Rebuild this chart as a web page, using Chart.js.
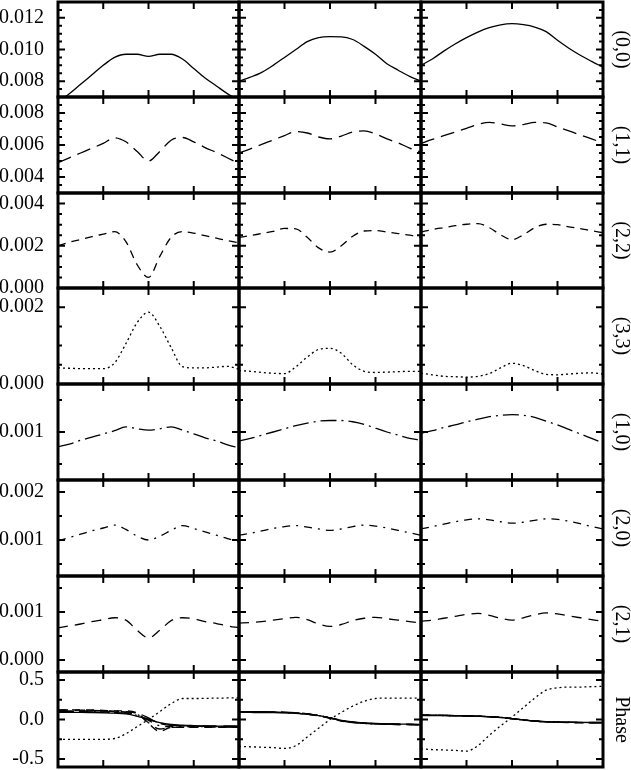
<!DOCTYPE html>
<html>
<head>
<meta charset="utf-8">
<script src="https://cdn.jsdelivr.net/npm/chart.js@4.4.1/dist/chart.umd.min.js"></script>
<style>
  html, body { margin: 0; padding: 0; background: #fff; }
  #wrap { position: relative; width: 631px; height: 770px; overflow: hidden; background: #fff; }
  #wrap canvas { position: absolute; }
</style>
</head>
<body>
<div id="wrap"></div>
<script>
// row names, top to bottom
const modes = ['(0,0)', '(1,1)', '(2,2)', '(3,3)', '(1,0)', '(2,0)', '(2,1)', 'Phase'];

// sample positions along x, same for every panel
const xs = [0, 1, 2, 3, 4, 5, 6, 7, 8, 9, 10, 11, 12, 13, 14, 15, 16];
const xTicks = [4, 8, 12];

// y range and labelled ticks for each row
const yMin = [0.007, 0.003, 0, 0, 0.00025, 0.00025, -0.00025, -0.6];
const yMax = [0.013, 0.009, 0.0045, 0.0025, 0.00175, 0.00225, 0.00175, 0.6];
const yTickLabels = [
  ['0.008', '0.010', '0.012'],
  ['0.004', '0.006', '0.008'],
  ['0.000', '0.002', '0.004'],
  ['0.000', '0.002'],
  ['0.001'],
  ['0.001', '0.002'],
  ['0.000', '0.001'],
  ['-0.5', '0.0', '0.5']
];
const yMinorStep = [0.0005, 0.0005, 0.0005, 0.0005, 0.0005, 0.0005, 0.0005, 0.25];

// amplitudes, one list per column
const amp00 = [
  [0.0067, 0.0072, 0.0078, 0.0084, 0.0090, 0.0095, 0.0097, 0.0097, 0.00957, 0.0097, 0.0097, 0.0094, 0.0088, 0.0082, 0.0077, 0.0072, 0.0068],
  [0.0080, 0.00825, 0.00856, 0.0090, 0.0095, 0.0100, 0.0105, 0.01075, 0.01081, 0.0108, 0.01063, 0.0102, 0.0097, 0.0091, 0.00869, 0.0083, 0.0080],
  [0.0090, 0.0094, 0.0099, 0.01035, 0.01075, 0.0111, 0.01138, 0.01156, 0.01163, 0.01157, 0.01142, 0.01113, 0.01058, 0.01008, 0.00964, 0.00925, 0.00888]
];
const amp11 = [
  [0.0049, 0.0052, 0.0055, 0.0058, 0.0061, 0.00645, 0.0062, 0.0056, 0.0050, 0.0056, 0.0063, 0.00647, 0.0062, 0.00584, 0.00553, 0.00519, 0.00484],
  [0.0055, 0.00576, 0.00604, 0.00631, 0.00659, 0.00684, 0.00675, 0.0065, 0.00638, 0.00656, 0.00681, 0.00688, 0.00669, 0.00638, 0.00613, 0.00581, 0.00556],
  [0.0061, 0.00635, 0.00658, 0.00681, 0.00704, 0.00728, 0.00741, 0.00731, 0.00719, 0.00728, 0.00741, 0.00738, 0.00713, 0.00688, 0.00663, 0.00638, 0.00613]
];
const amp22 = [
  [0.0020, 0.00217, 0.0023, 0.00243, 0.00255, 0.00267, 0.0022, 0.0011, 0.0005, 0.0015, 0.0024, 0.00267, 0.0026, 0.00248, 0.00236, 0.00224, 0.00214],
  [0.0024, 0.00248, 0.00258, 0.00268, 0.00282, 0.0028, 0.0024, 0.0019, 0.0017, 0.0020, 0.00245, 0.0027, 0.00272, 0.00265, 0.00258, 0.0025, 0.0024],
  [0.00265, 0.00277, 0.00286, 0.00295, 0.00302, 0.00305, 0.00286, 0.00252, 0.00229, 0.00252, 0.00286, 0.00302, 0.0030, 0.0029, 0.00281, 0.00271, 0.00262]
];
const amp33 = [
  [0.00042, 0.00041, 0.0004, 0.0004, 0.0004, 0.00055, 0.00105, 0.0016, 0.00187, 0.0015, 0.00095, 0.00045, 0.00042, 0.00042, 0.00044, 0.00046, 0.00038],
  [0.00035, 0.00033, 0.0003, 0.00028, 0.00027, 0.00045, 0.0007, 0.0009, 0.00093, 0.0008, 0.0005, 0.00033, 0.0003, 0.00031, 0.00032, 0.00033, 0.00033],
  [0.00028, 0.00024, 0.0002, 0.00019, 0.00018, 0.0002, 0.00027, 0.00042, 0.00054, 0.00048, 0.00035, 0.00025, 0.00024, 0.00026, 0.00028, 0.00029, 0.00026]
];
const amp10 = [
  [0.00077, 0.00081, 0.00087, 0.00092, 0.00097, 0.00102, 0.00108, 0.00105, 0.00103, 0.00105, 0.00108, 0.00103, 0.00097, 0.00091, 0.00086, 0.0008, 0.00075],
  [0.00086, 0.0009, 0.00095, 0.001, 0.00105, 0.0011, 0.00114, 0.00117, 0.00118, 0.00118, 0.00116, 0.00112, 0.00106, 0.001, 0.00095, 0.0009, 0.00087],
  [0.00098, 0.00102, 0.00107, 0.00111, 0.00116, 0.0012, 0.00124, 0.00126, 0.00127, 0.00126, 0.00123, 0.00117, 0.00111, 0.00104, 0.00097, 0.0009, 0.00083]
];
const amp20 = [
  [0.00098, 0.00105, 0.00112, 0.00119, 0.00125, 0.00131, 0.00122, 0.00108, 0.001, 0.00108, 0.0012, 0.0013, 0.00124, 0.00117, 0.0011, 0.00103, 0.00096],
  [0.0011, 0.00114, 0.00119, 0.00124, 0.00128, 0.0013, 0.00127, 0.00123, 0.0012, 0.00123, 0.00128, 0.00131, 0.00129, 0.00125, 0.0012, 0.00115, 0.0011],
  [0.00123, 0.00128, 0.00133, 0.00138, 0.00142, 0.00144, 0.00142, 0.00138, 0.00135, 0.00137, 0.00141, 0.00144, 0.00143, 0.00139, 0.00134, 0.00128, 0.00123]
];
const amp21 = [
  [0.00067, 0.00071, 0.00075, 0.0008, 0.00084, 0.00088, 0.00083, 0.00062, 0.00046, 0.00062, 0.00082, 0.00088, 0.00086, 0.0008, 0.00076, 0.00071, 0.00067],
  [0.00077, 0.00078, 0.0008, 0.00083, 0.00086, 0.00089, 0.00084, 0.00075, 0.0007, 0.00074, 0.00082, 0.00087, 0.00089, 0.00086, 0.00083, 0.0008, 0.00077],
  [0.00081, 0.00083, 0.00087, 0.00091, 0.00095, 0.00097, 0.00093, 0.00087, 0.00083, 0.00088, 0.00094, 0.00098, 0.00096, 0.00092, 0.00088, 0.00084, 0.00081]
];

// phases (bottom row), one list per column
const ph00 = [
  [0.09, 0.09, 0.09, 0.088, 0.085, 0.08, 0.07, 0.04, 0.0, -0.04, -0.063, -0.072, -0.077, -0.081, -0.084, -0.087, -0.09],
  [0.09, 0.089, 0.088, 0.086, 0.083, 0.078, 0.068, 0.05, 0.02, -0.01, -0.03, -0.042, -0.05, -0.055, -0.058, -0.06, -0.062],
  [0.05, 0.05, 0.048, 0.046, 0.044, 0.04, 0.035, 0.025, 0.01, -0.005, -0.018, -0.027, -0.032, -0.035, -0.037, -0.038, -0.038]
];
const ph11 = [
  [0.11, 0.11, 0.11, 0.108, 0.105, 0.1, 0.095, 0.08, 0.02, -0.05, -0.075, -0.08, -0.08, -0.08, -0.08, -0.08, -0.08],
  [0.1, 0.1, 0.098, 0.095, 0.092, 0.085, 0.072, 0.05, 0.02, -0.012, -0.033, -0.045, -0.052, -0.057, -0.06, -0.062, -0.064],
  [0.055, 0.054, 0.052, 0.05, 0.047, 0.043, 0.037, 0.027, 0.012, -0.004, -0.017, -0.026, -0.031, -0.034, -0.036, -0.037, -0.038]
];
const ph22 = [
  [0.12, 0.12, 0.12, 0.12, 0.115, 0.11, 0.11, 0.08, -0.05, -0.15, -0.1, -0.1, -0.1, -0.1, -0.1, -0.1, -0.1],
  [0.1, 0.1, 0.098, 0.095, 0.09, 0.08, 0.065, 0.045, 0.015, -0.02, -0.04, -0.05, -0.055, -0.058, -0.06, -0.063, -0.065],
  [0.055, 0.055, 0.053, 0.05, 0.046, 0.042, 0.036, 0.026, 0.01, -0.006, -0.02, -0.03, -0.035, -0.038, -0.04, -0.041, -0.042]
];
const ph33 = [
  [-0.25, -0.25, -0.25, -0.25, -0.25, -0.24, -0.18, -0.09, 0.0, 0.1, 0.2, 0.265, 0.265, 0.267, 0.27, 0.272, 0.275],
  [-0.34, -0.345, -0.35, -0.355, -0.365, -0.33, -0.22, -0.11, 0.0, 0.09, 0.17, 0.23, 0.265, 0.27, 0.27, 0.27, 0.27],
  [-0.37, -0.38, -0.385, -0.39, -0.4, -0.33, -0.2, -0.08, 0.03, 0.15, 0.27, 0.37, 0.4, 0.41, 0.41, 0.415, 0.42]
];
const ph10 = [
  [0.1, 0.1, 0.098, 0.096, 0.093, 0.088, 0.078, 0.05, 0.005, -0.045, -0.07, -0.08, -0.085, -0.088, -0.09, -0.092, -0.094],
  [0.095, 0.094, 0.092, 0.09, 0.087, 0.081, 0.07, 0.052, 0.022, -0.01, -0.032, -0.045, -0.053, -0.058, -0.061, -0.063, -0.065],
  [0.052, 0.052, 0.05, 0.048, 0.045, 0.041, 0.036, 0.026, 0.011, -0.005, -0.019, -0.028, -0.033, -0.036, -0.038, -0.039, -0.04]
];
const ph20 = [
  [0.1, 0.1, 0.1, 0.098, 0.095, 0.09, 0.085, 0.06, -0.01, -0.08, -0.09, -0.09, -0.09, -0.09, -0.09, -0.09, -0.09],
  [0.098, 0.097, 0.095, 0.092, 0.088, 0.082, 0.07, 0.05, 0.02, -0.015, -0.036, -0.048, -0.055, -0.06, -0.063, -0.065, -0.067],
  [0.053, 0.053, 0.051, 0.049, 0.046, 0.042, 0.036, 0.026, 0.01, -0.006, -0.02, -0.029, -0.034, -0.037, -0.039, -0.04, -0.041]
];
const ph21 = [
  [0.12, 0.12, 0.118, 0.115, 0.11, 0.105, 0.1, 0.075, -0.04, -0.12, -0.1, -0.095, -0.095, -0.095, -0.095, -0.095, -0.095],
  [0.1, 0.099, 0.097, 0.094, 0.09, 0.082, 0.068, 0.048, 0.018, -0.018, -0.038, -0.05, -0.056, -0.06, -0.063, -0.065, -0.067],
  [0.056, 0.055, 0.053, 0.05, 0.047, 0.043, 0.037, 0.026, 0.01, -0.007, -0.021, -0.03, -0.035, -0.038, -0.04, -0.042, -0.043]
];

const amps = [amp00, amp11, amp22, amp33, amp10, amp20, amp21];
const phases = [ph00, ph11, ph22, ph33, ph10, ph20, ph21];
const dashes = [[], [14, 7], [8, 6], [2, 3], [16, 5, 2, 5], [8, 6, 2, 6], [10, 7]];

// panel edges in page pixels
const colX = [58, 239, 421, 603];
const rowY = [2, 97, 193, 288, 384, 480, 576, 672, 767];
const PAD = 16;
const FONT = 'Liberation Serif, Times New Roman, serif';

// frame with inward ticks on all four sides + the rotated row name
const panelFrame = {
  id: 'panelFrame',
  afterDraw(chart, args, opts) {
    const ctx = chart.ctx;
    const a = chart.chartArea;
    const x = chart.scales.x;
    const y = chart.scales.y;
    ctx.save();
    ctx.strokeStyle = '#000';
    ctx.lineWidth = 2;
    ctx.beginPath();
    xTicks.forEach(function(v) {
      const px = x.getPixelForValue(v);
      ctx.moveTo(px, a.top); ctx.lineTo(px, a.top + 7);
      ctx.moveTo(px, a.bottom); ctx.lineTo(px, a.bottom - 7);
    });
    const majors = opts.labels.map(Number);
    const step = opts.minorStep;
    for(let k = Math.ceil(y.min / step - 1e-6); k <= Math.floor(y.max / step + 1e-6); k++) {
      const v = k * step;
      const isMajor = majors.some((m) => Math.abs(m - v) < step / 10);
      const len = isMajor ? 7 : 4;
      const py = y.getPixelForValue(v);
      ctx.moveTo(a.left, py); ctx.lineTo(a.left + len, py);
      ctx.moveTo(a.right, py); ctx.lineTo(a.right - len, py);
    }
    ctx.stroke();
    ctx.lineWidth = 3;
    ctx.strokeRect(a.left, a.top, a.right - a.left, a.bottom - a.top);
    if(opts.side) {
      ctx.fillStyle = '#000';
      ctx.font = '20px ' + FONT;
      ctx.textAlign = 'center';
      ctx.textBaseline = 'middle';
      ctx.translate(621 - opts.offsetX, (a.top + a.bottom) / 2);
      ctx.rotate(Math.PI / 2);
      ctx.fillText(opts.side, 0, 0);
    }
    ctx.restore();
  }
};

function lineSet(values, dash) {
  return {
    data: xs.map((x, i) => ({ x: x, y: values[i] })),
    borderColor: '#000',
    borderWidth: 1.3,
    borderDash: dash,
    pointRadius: 0,
    fill: false,
    cubicInterpolationMode: 'monotone'
  };
}

const wrap = document.getElementById('wrap');

for(let r = 0; r < 8; r++) {
  for(let c = 0; c < 3; c++) {
    const left = c === 0 ? 0 : colX[c] - 6;
    const right = c === 2 ? 631 : colX[c + 1] + 6;
    const top = rowY[r] - PAD;
    const bottom = rowY[r + 1] + PAD;
    const canvas = document.createElement('canvas');
    canvas.width = right - left;
    canvas.height = bottom - top;
    canvas.style.left = left + 'px';
    canvas.style.top = top + 'px';
    wrap.appendChild(canvas);

    let datasets;
    if(r < 7) {
      datasets = [lineSet(amps[r][c], dashes[r])];
    } else {
      datasets = phases.map((p, k) => lineSet(p[c], dashes[k]));
    }
    const labels = yTickLabels[r];

    new Chart(canvas, {
      type: 'line',
      data: { datasets: datasets },
      options: {
        responsive: false,
        animation: false,
        events: [],
        layout: {
          padding: { left: c === 0 ? 0 : 6, right: c === 2 ? 631 - colX[3] : 6, top: PAD, bottom: PAD }
        },
        plugins: {
          legend: { display: false },
          tooltip: { enabled: false },
          panelFrame: { labels: labels, minorStep: yMinorStep[r], side: c === 2 ? modes[r] : null, offsetX: left }
        },
        scales: {
          x: { type: 'linear', min: 0, max: 16, display: false },
          y: {
            type: 'linear',
            min: yMin[r],
            max: yMax[r],
            display: c === 0,
            afterFit: function(scale) {
              if(c !== 0) return;
              // fixed label column, and no extra room for the end labels
              scale.width = colX[0];
              scale.paddingTop = 0;
              scale.paddingBottom = 0;
            },
            afterBuildTicks: function(scale) { scale.ticks = labels.map((l) => ({ value: Number(l) })); },
            grid: { display: false, drawTicks: false },
            border: { display: false },
            ticks: {
              autoSkip: false,
              padding: 14,
              color: '#000',
              font: { family: FONT, size: 20 },
              callback: function(v, i) { return labels[i]; }
            }
          }
        }
      },
      plugins: [panelFrame]
    });
  }
}
</script>
</body>
</html>
